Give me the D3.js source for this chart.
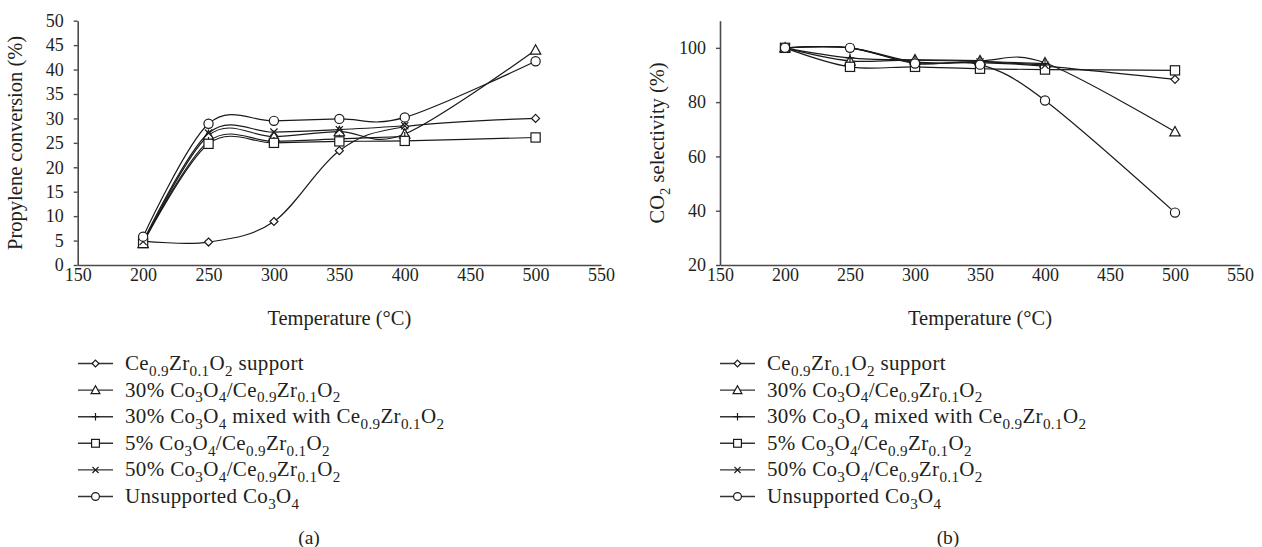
<!DOCTYPE html>
<html><head><meta charset="utf-8">
<script src="https://cdn.jsdelivr.net/npm/d3@7"></script>
<style>
body{margin:0;background:#fff}
svg{display:block}
text{font-family:"Liberation Serif","Times New Roman",serif;fill:#231f20}
</style>
</head><body>
<svg id="chart" width="1262" height="547"></svg>
<script>
// ---------- data ----------
const temperatures = [200, 250, 300, 350, 400, 500];
const xTicks = [150, 200, 250, 300, 350, 400, 450, 500, 550];
const conversionTicks = [0, 5, 10, 15, 20, 25, 30, 35, 40, 45, 50];
const selectivityTicks = [20, 40, 60, 80, 100];

const legendLabels = [
  "Ce_{0.9}Zr_{0.1}O_{2} support",
  "30% Co_{3}O_{4}/Ce_{0.9}Zr_{0.1}O_{2}",
  "30% Co_{3}O_{4} mixed with Ce_{0.9}Zr_{0.1}O_{2}",
  "5% Co_{3}O_{4}/Ce_{0.9}Zr_{0.1}O_{2}",
  "50% Co_{3}O_{4}/Ce_{0.9}Zr_{0.1}O_{2}",
  "Unsupported Co_{3}O_{4}"
];
const markerTypes = ["diamond", "triangle", "plus", "square", "cross", "circle"];

// (a) propylene conversion (%)
const convSupport   = [4.9, 4.7, 8.9, 23.4, 28.3, 30.0];
const conv30Supp    = [4.4, 26.5, 26.3, 27.3, 26.8, 44.0];
const conv30Mixed   = [4.6, 25.3, 25.3, 25.8, 26.3];
const conv5Supp     = [4.5, 24.8, 25.0, 25.3, 25.4, 26.1];
const conv50Supp    = [4.8, 27.0, 27.2, 27.7, 28.5];
const convUnsupp    = [5.8, 28.9, 29.5, 29.9, 30.2, 41.7];

// (b) CO2 selectivity (%)
const selSupport    = [100, 100, 94.8, 94.5, 93.3, 88.4];
const sel30Supp     = [100, 95.2, 95.6, 95.3, 94.5, 69.1];
const sel30Mixed    = [100, 96.3, 95.5, 95.0, 94.2];
const sel5Supp      = [100, 93.0, 93.0, 92.3, 92.0, 91.7];
const sel50Supp     = [100, 100, 94.5, 94.8, 93.6];
const selUnsupp     = [100, 100, 94.2, 93.8, 80.6, 39.3];

// ---------- helpers ----------
const svg = d3.select("#chart");
const INK = "#1a1a1a";

function addRich(textSel, str, fs) {
  const parts = str.split(/(_\{[^}]*\})/);
  let shifted = false;
  parts.forEach(p => {
    if (!p) return;
    if (p.startsWith("_{")) {
      textSel.append("tspan").attr("font-size", fs * 0.72)
        .attr("dy", shifted ? 0 : fs * 0.28).text(p.slice(2, -1));
      shifted = true;
    } else {
      textSel.append("tspan").attr("font-size", fs)
        .attr("dy", shifted ? -fs * 0.28 : 0).text(p);
      shifted = false;
    }
  });
}

function drawMarker(g, type, x, y, s) {
  const st = {stroke: INK, "stroke-width": 1.2, fill: "#fff"};
  let el;
  if (type === "circle") {
    el = g.append("circle").attr("cx", x).attr("cy", y).attr("r", 4.6 * s);
  } else if (type === "square") {
    const h = 4.6 * s;
    el = g.append("rect").attr("x", x - h).attr("y", y - h).attr("width", 2 * h).attr("height", 2 * h);
  } else if (type === "diamond") {
    const h = 4 * s;
    el = g.append("path").attr("d", `M${x},${y - h}L${x + h},${y}L${x},${y + h}L${x - h},${y}Z`);
  } else if (type === "triangle") {
    const h = 5.2 * s;
    el = g.append("path").attr("d", `M${x},${y - h}L${x + h},${y + h * 0.8}L${x - h},${y + h * 0.8}Z`);
  } else if (type === "plus") {
    const h = 4.5 * s;
    el = g.append("path").attr("d", `M${x - h},${y}L${x + h},${y}M${x},${y - h}L${x},${y + h}`);
  } else if (type === "cross") {
    const h = 3.6 * s;
    el = g.append("path").attr("d", `M${x - h},${y - h}L${x + h},${y + h}M${x - h},${y + h}L${x + h},${y - h}`);
  }
  Object.entries(st).forEach(([k, v]) => el.attr(k, v));
}

function panel(cfg) {
  const x = d3.scaleLinear().domain([150, 550]).range(cfg.xRange);
  const y = d3.scaleLinear().domain(cfg.yDomain).range([265, 20.7]);
  const g = svg.append("g");

  const xa = g.append("g").attr("transform", `translate(0,${y.range()[0]})`)
    .call(d3.axisBottom(x).tickValues(xTicks).tickSize(0).tickPadding(3).tickSizeOuter(0));
  const ya = g.append("g").attr("transform", `translate(${x.range()[0]},0)`)
    .call(d3.axisLeft(y).tickValues(cfg.yTicks).tickSize(4).tickPadding(10).tickSizeOuter(0));
  [xa, ya].forEach(a => {
    a.select(".domain").attr("stroke", "#4a4a4a").attr("stroke-width", 1.6);
    a.selectAll(".tick line").attr("stroke", "#4a4a4a").attr("stroke-width", 1.4);
    a.selectAll(".tick text").attr("font-size", 18).attr("fill", "#231f20")
      .attr("font-family", '"Liberation Serif","Times New Roman",serif');
  });

  // x title
  g.append("text").attr("x", (cfg.xRange[0] + cfg.xRange[1]) / 2).attr("y", 325)
    .attr("text-anchor", "middle").attr("font-size", 20.5).text("Temperature (°C)");
  // y title
  const yt = g.append("text")
    .attr("transform", `translate(${cfg.yTitleX},${(y.range()[0] + y.range()[1]) / 2}) rotate(-90)`)
    .attr("text-anchor", "middle");
  addRich(yt, cfg.yTitle, 20.5);

  const line = d3.line().x(d => x(d[0])).y(d => y(d[1])).curve(d3.curveCardinal.tension(0));
  cfg.series.forEach((vals, i) => {
    const pts = vals.map((v, j) => [temperatures[j], v]);
    g.append("path").attr("d", line(pts)).attr("fill", "none")
      .attr("stroke", INK).attr("stroke-width", 1.2);
    const mg = g.append("g");
    pts.forEach(p => drawMarker(mg, markerTypes[i], x(p[0]), y(p[1]), 1));
  });

  // legend
  const lg = g.append("g");
  legendLabels.forEach((lab, i) => {
    const ry = 363.5 + i * 26.6;
    lg.append("line").attr("x1", cfg.legX).attr("x2", cfg.legX + 35).attr("y1", ry).attr("y2", ry)
      .attr("stroke", "#333").attr("stroke-width", 1.4);
    drawMarker(lg, markerTypes[i], cfg.legX + 17.5, ry, 0.85);
    const t = lg.append("text").attr("x", cfg.legX + 47).attr("y", ry + 6.5)
      .attr("font-size", 21).attr("letter-spacing", 0.35);
    addRich(t, lab, 21);
  });

  g.append("text").attr("x", cfg.capX).attr("y", 544).attr("text-anchor", "middle")
    .attr("font-size", 19.5).text(cfg.caption);
}

panel({
  xRange: [77.7, 601],
  yDomain: [0, 50],
  yTicks: conversionTicks,
  yTitle: "Propylene conversion (%)",
  yTitleX: 22,
  series: [convSupport, conv30Supp, conv30Mixed, conv5Supp, conv50Supp, convUnsupp],
  legX: 78,
  capX: 309,
  caption: "(a)"
});

panel({
  xRange: [720, 1240],
  yDomain: [20, 110],
  yTicks: selectivityTicks,
  yTitle: "CO_{2} selectivity (%)",
  yTitleX: 664,
  series: [selSupport, sel30Supp, sel30Mixed, sel5Supp, sel50Supp, selUnsupp],
  legX: 720,
  capX: 948,
  caption: "(b)"
});
</script>
</body></html>
